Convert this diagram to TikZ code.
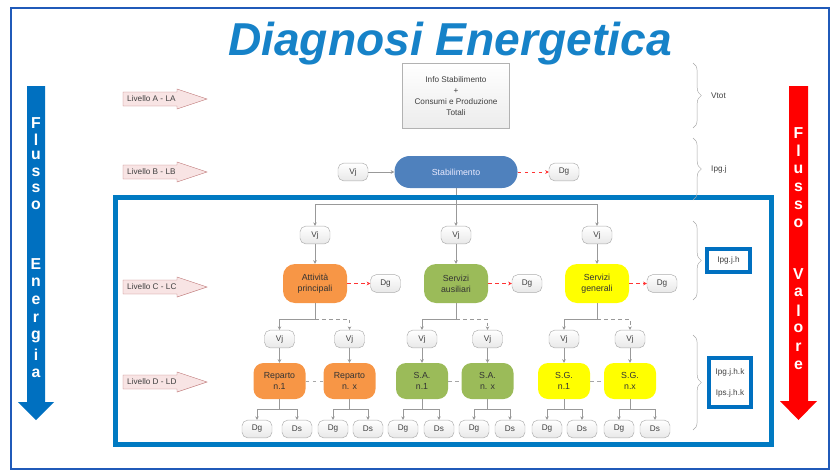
\documentclass[tikz,border=0pt]{standalone}
\usepackage{fontspec}
\setmainfont{Liberation Sans}
\usepackage{tikz}
\usetikzlibrary{shapes,positioning,decorations.pathreplacing,arrows.meta}

\definecolor{titleblue}{RGB}{22,130,200}
\definecolor{outerblue}{RGB}{32,90,185}
\definecolor{frameblue}{RGB}{0,122,194}
\definecolor{energyblue}{RGB}{0,112,192}
\definecolor{valred}{RGB}{255,0,0}
\definecolor{stabblue}{RGB}{79,129,189}
\definecolor{orangeC}{RGB}{247,150,70}
\definecolor{greenC}{RGB}{155,187,89}
\definecolor{yellowC}{RGB}{255,255,0}
\definecolor{livfill}{RGB}{248,228,228}
\definecolor{livdraw}{RGB}{190,120,120}

\begin{document}
\begin{tikzpicture}[x=0.03cm, y=-0.03cm,
        small/.style = {draw=gray!65, rounded corners=0.17cm,
            top color=white, bottom color=gray!18,
            minimum width=0.9cm, minimum height=0.53cm, inner sep=0pt,
            text=black!75, font=\fontsize{7}{8}\selectfont},
        unit/.style = {rounded corners=0.36cm, minimum width=1.92cm,
            minimum height=1.17cm, inner sep=0pt, align=center,
            text=black!80, font=\fontsize{7.5}{9.5}\selectfont},
        dept/.style = {rounded corners=0.3cm, minimum width=1.56cm,
            minimum height=1.08cm, inner sep=0pt, align=center,
            text=black!80, font=\fontsize{7.5}{10}\selectfont},
        conn/.style = {draw=gray!80, -{Stealth[length=3pt,width=3pt]}},
        loss/.style = {draw=red!80, dashed, -{Stealth[length=3pt,width=3pt]}},
        brace/.style = {draw=gray!70, decorate,
            decoration={brace, amplitude=0.25cm}},
        idx/.style = {draw=energyblue, line width=0.12cm, fill=white,
            inner sep=0pt, text=black!75, align=center},
        flow/.style = {text=white, inner sep=0pt,
            font=\fontsize{13.5}{13.5}\selectfont\bfseries},
        livtext/.style = {inner sep=0pt, text=black!75,
            font=\fontsize{7}{8}\selectfont}]

    \useasboundingbox (0,0) rectangle (833,476);

    % Outer border
    \draw[outerblue, line width=0.06cm] (11,8) rectangle (829,469);

    % Title
    \node[anchor=base, text=titleblue,
        font=\fontsize{39.4}{40}\selectfont\bfseries\itshape] (title) at (450,55) {Diagnosi Energetica};

    % Flusso Energia
    \fill[energyblue] (27,86) -- (45,86) -- (45,402) -- (54,402) -- (36,420) -- (18,402) -- (27,402) -- cycle;
    \foreach \ch [count=\i] in {F,l,u,s,s,o}
        \node[flow] (fe\i) at (36,{123+16.4*(\i-1)}) {\ch};
    \foreach \ch [count=\i] in {E,n,e,r,g,i,a}
        \node[flow] (en\i) at (36,{264+18.2*(\i-1)}) {\ch};

    % Flusso Valore
    \fill[valred] (789,86) -- (808,86) -- (808,401) -- (817,401) -- (798.5,420) -- (780,401) -- (789,401) -- cycle;
    \foreach \ch [count=\i] in {F,l,u,s,s,o}
        \node[flow] (fv\i) at (798.5,{133+18*(\i-1)}) {\ch};
    \foreach \ch [count=\i] in {V,a,l,o,r,e}
        \node[flow] (va\i) at (798.5,{274+18.2*(\i-1)}) {\ch};

    % Levels
    \foreach \ly/\lt/\nm in {99/A - LA/la, 172/B - LB/lb, 287/C - LC/lc, 382/D - LD/ld} {
        \draw[livdraw, fill=livfill] (123,\ly-7) -- (177,\ly-7) -- (177,\ly-10) -- (207,\ly)
            -- (177,\ly+10) -- (177,\ly+7) -- (123,\ly+7) -- cycle;
        \node[livtext, anchor=west] (\nm) at (127,\ly) {Livello \lt};
    }

    % Level A
    \node[draw=gray!60, top color=white, bottom color=gray!15,
        minimum width=3.21cm, minimum height=1.95cm, align=center,
        text=black!75, font=\fontsize{7}{9.5}\selectfont] (info) at (456,96)
        {Info Stabilimento\\+\\Consumi e Produzione\\Totali};

    % Level B
    \node[small] (vjb) at (353,172) {Vj};
    \node[fill=stabblue, rounded corners=0.46cm, minimum width=3.69cm,
        minimum height=0.96cm, text=white!92!blue,
        font=\fontsize{7.5}{9}\selectfont] (stab) at (456,172) {Stabilimento};
    \node[small] (dgb) at (564,172) {Dg};
    \draw[conn] (vjb) -- (stab);
    \draw[loss] (stab) -- (dgb);

    % Level C
    \node[small] (vjc1) at (315,235) {Vj};
    \node[small] (vjc2) at (456,235) {Vj};
    \node[small] (vjc3) at (597,235) {Vj};
    \node[unit, fill=orangeC] (att) at (315,283.5) {Attività\\principali};
    \node[unit, fill=greenC] (aus) at (456,283.5) {Servizi\\ausiliari};
    \node[unit, fill=yellowC] (gen) at (597,283.5) {Servizi\\generali};
    \node[small] (dgc1) at (385.5,283.5) {Dg};
    \node[small] (dgc2) at (527,283.5) {Dg};
    \node[small] (dgc3) at (662,283.5) {Dg};

    \draw[conn] (stab.south) -- ++(0,16) -| (vjc1.north);
    \draw[conn] (stab.south) -- (vjc2.north);
    \draw[conn] (stab.south) ++(0,16) -| (vjc3.north);
    \draw[conn] (vjc1) -- (att);
    \draw[conn] (vjc2) -- (aus);
    \draw[conn] (vjc3) -- (gen);
    \draw[loss] (att) -- (dgc1);
    \draw[loss] (aus) -- (dgc2);
    \draw[loss] (gen) -- (dgc3);

    % Level D
    \node[small] (vjd1) at (279.5,339) {Vj};
    \node[small] (vjd2) at (349.5,339) {Vj};
    \node[small] (vjd3) at (422,339) {Vj};
    \node[small] (vjd4) at (487.5,339) {Vj};
    \node[small] (vjd5) at (564,339) {Vj};
    \node[small] (vjd6) at (630,339) {Vj};
    \node[dept, fill=orangeC] (rep1) at (279.5,381) {Reparto\\n.1};
    \node[dept, fill=orangeC] (repx) at (349.5,381) {Reparto\\n. x};
    \node[dept, fill=greenC] (sa1) at (422,381) {S.A.\\n.1};
    \node[dept, fill=greenC] (sax) at (487.5,381) {S.A.\\n. x};
    \node[dept, fill=yellowC] (sg1) at (564,381) {S.G.\\n.1};
    \node[dept, fill=yellowC] (sgx) at (630,381) {S.G.\\n.x};

    \draw[conn] (att.south) -- ++(0,16) -| (vjd1.north);
    \draw[conn, dashed] (att.south) ++(0,16) -| (vjd2.north);
    \draw[conn] (aus.south) -- ++(0,16) -| (vjd3.north);
    \draw[conn, dashed] (aus.south) ++(0,16) -| (vjd4.north);
    \draw[conn] (gen.south) -- ++(0,16) -| (vjd5.north);
    \draw[conn, dashed] (gen.south) ++(0,16) -| (vjd6.north);

    \foreach \v/\d in {vjd1/rep1, vjd2/repx, vjd3/sa1, vjd4/sax, vjd5/sg1, vjd6/sgx}
        \draw[conn] (\v) -- (\d);
    \draw[gray!70, dashed] (rep1) -- (repx);
    \draw[gray!70, dashed] (sa1) -- (sax);
    \draw[gray!70, dashed] (sg1) -- (sgx);

    % Bottom row
    \foreach \d/\xg/\xs in {rep1/257/297, repx/333/368, sa1/403/439,
                            sax/474/510, sg1/547/582, sgx/619/655} {
        \node[small] (g\d) at (\xg,429) {Dg};
        \node[small] (s\d) at (\xs,429) {Ds};
        \draw[conn] (\d.south) -- ++(0,10) -| (g\d.north);
        \draw[conn] (\d.south) ++(0,10) -| (s\d.north);
    }

    % Frame of levels C and D
    \draw[frameblue, line width=0.15cm] (115,197) rectangle (771,444);

    % Braces and indices
    \draw[brace] (693,63) -- (693,128);
    \node[livtext, anchor=west] (vtot) at (711,96) {Vtot};
    \draw[brace] (693,138) -- (693,200);
    \node[livtext, anchor=west] (ipgj) at (711,169) {Ipg.j};
    \draw[brace] (693,221) -- (693,300);
    \node[idx, minimum width=1.29cm, minimum height=0.69cm,
        font=\fontsize{7}{8}\selectfont] (ipgjh) at (728.5,260.5) {Ipg.j.h};
    \draw[brace] (693,335) -- (693,430);
    \node[idx, minimum width=1.26cm, minimum height=1.47cm,
        font=\fontsize{7}{18}\selectfont] (ipgjhk) at (730,382.5) {Ipg.j.h.k\\Ips.j.h.k};

\end{tikzpicture}
\end{document}
